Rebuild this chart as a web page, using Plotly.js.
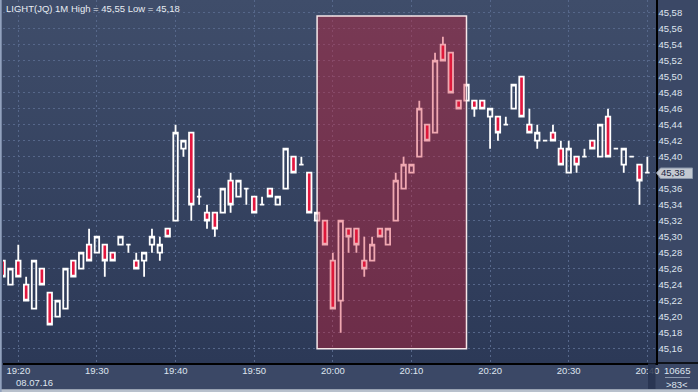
<!DOCTYPE html>
<html><head><meta charset="utf-8">
<script src="https://cdn.plot.ly/plotly-3.0.1.min.js"></script>
<style>
html,body{margin:0;padding:0;background:#3b4866;}
#wrap{position:relative;width:698px;height:392px;overflow:hidden;background:#3b4866;}
#bg{position:absolute;left:2px;top:0;width:654px;height:363px;background:linear-gradient(#3f4d6a,#2c3957);}
#chart{position:absolute;left:0;top:0;width:698px;height:392px;}
</style></head><body>
<div id="wrap"><div id="bg"></div><div id="chart"></div></div>
<script>
const times = ["19:18","19:19","19:20","19:21","19:22","19:23","19:24","19:25","19:26","19:27","19:28","19:29",
"19:30","19:31","19:32","19:33","19:34","19:35","19:36","19:37","19:38","19:39",
"19:40","19:41","19:42","19:43","19:44","19:45","19:46","19:47","19:48","19:49",
"19:50","19:51","19:52","19:53","19:54","19:55","19:56","19:57","19:58","19:59",
"20:00","20:01","20:02","20:03","20:04","20:05","20:06","20:07","20:08","20:09",
"20:10","20:11","20:12","20:13","20:14","20:15","20:16","20:17","20:18","20:19",
"20:20","20:21","20:22","20:23","20:24","20:25","20:26","20:27","20:28","20:29",
"20:30","20:31","20:32","20:33","20:34","20:35","20:36","20:37","20:38","20:39","20:40"];
const open = [45.27,45.24,45.27,45.24,45.21,45.26,45.23,45.20,45.21,45.27,45.26,45.29,
45.28,45.29,45.28,45.29,45.29,45.27,45.27,45.29,45.28,45.31,
45.32,45.41,45.43,45.35,45.33,45.33,45.33,45.37,45.35,45.36,
45.35,45.34,45.36,45.34,45.36,45.40,45.39,45.38,45.32,45.32,
45.27,45.22,45.31,45.31,45.27,45.27,45.31,45.29,45.32,45.36,
45.38,45.40,45.44,45.43,45.54,45.53,45.47,45.47,45.47,45.47,
45.45,45.45,45.44,45.46,45.50,45.44,45.42,45.42,45.43,45.41,
45.38,45.40,45.40,45.42,45.40,45.45,45.41,45.39,45.40,45.39,45.38];
const high = [45.27,45.26,45.29,45.25,45.27,45.26,45.23,45.22,45.26,45.27,45.28,45.31,
45.30,45.29,45.28,45.30,45.29,45.28,45.28,45.31,45.30,45.31,
45.44,45.42,45.43,45.36,45.34,45.33,45.36,45.38,45.37,45.36,
45.35,45.35,45.36,45.35,45.41,45.40,45.40,45.38,45.33,45.32,
45.28,45.32,45.31,45.31,45.30,45.30,45.31,45.31,45.38,45.40,
45.39,45.47,45.44,45.53,45.55,45.53,45.47,45.49,45.47,45.47,
45.46,45.45,45.45,45.49,45.50,45.46,45.44,45.42,45.44,45.42,
45.42,45.40,45.41,45.42,45.44,45.46,45.41,45.41,45.40,45.39,45.40];
const low = [45.25,45.24,45.25,45.22,45.21,45.24,45.19,45.20,45.21,45.25,45.26,45.27,
45.28,45.25,45.27,45.29,45.28,45.26,45.25,45.28,45.27,45.30,
45.32,45.40,45.32,45.34,45.31,45.30,45.33,45.33,45.35,45.34,
45.33,45.34,45.35,45.34,45.36,45.38,45.39,45.33,45.32,45.29,
45.21,45.18,45.28,45.28,45.25,45.27,45.30,45.29,45.32,45.36,
45.38,45.40,45.42,45.43,45.52,45.48,45.46,45.47,45.45,45.46,
45.41,45.42,45.44,45.46,45.45,45.43,45.41,45.42,45.42,45.39,
45.38,45.38,45.40,45.41,45.40,45.40,45.41,45.38,45.40,45.34,45.38];
const close = [45.25,45.26,45.25,45.22,45.27,45.24,45.19,45.22,45.26,45.25,45.28,45.27,
45.30,45.27,45.27,45.30,45.29,45.26,45.28,45.30,45.29,45.30,
45.43,45.42,45.34,45.35,45.32,45.31,45.36,45.34,45.37,45.36,
45.33,45.34,45.35,45.35,45.41,45.38,45.39,45.33,45.33,45.29,
45.21,45.32,45.30,45.29,45.26,45.29,45.30,45.31,45.37,45.39,
45.39,45.46,45.42,45.52,45.52,45.48,45.46,45.49,45.46,45.46,
45.46,45.43,45.44,45.49,45.45,45.43,45.43,45.42,45.42,45.39,
45.41,45.39,45.40,45.41,45.44,45.40,45.41,45.41,45.40,45.37,45.38];
const yTickVals = [45.16,45.18,45.20,45.22,45.24,45.26,45.28,45.30,45.32,45.34,45.36,45.38,
45.40,45.42,45.44,45.46,45.48,45.50,45.52,45.54,45.56,45.58];
const yTickText = ["45,16","45,18","45,20","45,22","45,24","45,26","45,28","45,30","45,32","45,34","45,36","",
"45,40","45,42","45,44","45,46","45,48","45,50","45,52","45,54","45,56","45,58"];
const day = "2016-07-08";
const dateLabel = "08.07.16";
const titleText = "LIGHT(JQ) 1M High = 45,55 Low = 45,18";
const lastPrice = 45.38;
const lastPriceText = "45,38";
const barCount = "10665";
const visibleCount = ">83<";
const selStart = "19:58", selEnd = "20:17";

const x = times.map(t => day + " " + t);

// layout geometry (pixels)
const L = 3, R = 42, T = 0, B = 29, W = 698, H = 392;
const PW = W - L - R, PH = H - T - B;
const px = p => (p - L) / PW;
const py = p => (PH + T - p) / PH;

// x range: 19:20 at pixel 18.3, 7.863 px per minute
function minStr(m) {
  let s = 19 * 3600 + 20 * 60 + m * 60;
  const hh = Math.floor(s / 3600); s -= hh * 3600;
  const mm = Math.floor(s / 60); s -= mm * 60;
  const pad = n => String(n).padStart(2, "0");
  return day + " " + pad(hh) + ":" + pad(mm) + ":" + s.toFixed(3).padStart(6, "0");
}
const kL = (L - 18.3) / 7.863, kR = (L + PW - 18.3) / 7.863;
const yTop = 45.58 + 12.7 / 800, yBot = 45.58 - (PH - 12.7) / 800;

const font = "Liberation Sans, Arial, sans-serif";
const txt = "#dfe5ef";
const grid = "#56678a";

const trace = {
  type: "candlestick", x: x, open: open, high: high, low: low, close: close,
  increasing: {line: {color: "#ffffff", width: 1.8}, fillcolor: "rgba(0,0,0,0)"},
  decreasing: {line: {color: "#ffffff", width: 1.8}, fillcolor: "#e3173f"},
  whiskerwidth: 0, hoverinfo: "skip", showlegend: false
};

function poly(pts) {
  return "M" + pts.map(p => px(p[0]).toFixed(5) + "," + py(p[1]).toFixed(5)).join("L") + "Z";
}

const layout = {
  width: W, height: H,
  margin: {l: L, r: R, t: T, b: B, pad: 0},
  paper_bgcolor: "rgba(0,0,0,0)", plot_bgcolor: "rgba(0,0,0,0)",
  separators: ", ",
  boxgap: 0.43, boxgroupgap: 0,
  showlegend: false,
  xaxis: {
    type: "date", range: [minStr(kL), minStr(kR)],
    rangeslider: {visible: false}, fixedrange: true,
    tick0: day + " 19:20", dtick: 600000, tickformat: "%H:%M",
    showgrid: true, gridcolor: grid, gridwidth: 1, griddash: "2px,3px",
    zeroline: false, showline: true, linecolor: "#000000", linewidth: 1.5,
    ticks: "", ticklabelstandoff: -2, tickfont: {family: font, size: 9.5, color: txt}
  },
  yaxis: {
    side: "right", range: [yBot, yTop], fixedrange: true,
    tickmode: "array", tickvals: yTickVals, ticktext: yTickText,
    showgrid: true, gridcolor: grid, gridwidth: 1, griddash: "2px,3px",
    zeroline: false, showline: true, linecolor: "#000000", linewidth: 1.5,
    ticks: "", ticklabelstandoff: -1, tickfont: {family: font, size: 9.5, color: txt}
  },
  shapes: [
    {type: "rect", layer: "above", xref: "x", yref: "y",
     x0: day + " " + selStart, x1: day + " " + selEnd, y0: 45.16, y1: 45.576,
     fillcolor: "rgba(215,25,50,0.38)", line: {color: "rgba(255,240,240,0.95)", width: 1.5}},
    {type: "path", layer: "above", xref: "paper", yref: "paper",
     path: poly([[656.5,173],[660.5,168],[692.5,168],[692.5,178.5],[660.5,178.5]]),
     fillcolor: "#c3c8d1", line: {color: "#8c97ab", width: 1}},
    {type: "rect", layer: "above", xref: "paper", yref: "paper",
     x0: px(648), x1: px(655.5), y0: py(389), y1: py(363.5),
     fillcolor: "rgba(40,52,80,0.85)", line: {width: 0}},
    {type: "line", layer: "above", xref: "paper", yref: "paper",
     x0: px(656), x1: px(698), y0: py(363), y1: py(363),
     line: {color: "#000000", width: 1.5}},
    {type: "line", layer: "above", xref: "paper", yref: "paper",
     x0: px(665), x1: px(690), y0: py(377.5), y1: py(377.5),
     line: {color: "#8a97ad", width: 1}},
    {type: "rect", layer: "above", xref: "paper", yref: "paper",
     x0: px(0), x1: px(698), y0: py(392), y1: py(389.3),
     fillcolor: "#b8c0cc", line: {width: 0}},
    {type: "rect", layer: "above", xref: "paper", yref: "paper",
     x0: px(0), x1: px(1.7), y0: py(392), y1: py(0),
     fillcolor: "#92a2be", line: {width: 0}}
  ],
  annotations: [
    {xref: "paper", yref: "paper", x: px(4), y: py(8), xanchor: "left", yanchor: "middle",
     text: titleText, showarrow: false, font: {family: font, size: 9.5, color: "#e8ecf2"}},
    {xref: "paper", yref: "paper", x: px(14), y: py(382), xanchor: "left", yanchor: "middle",
     text: dateLabel, showarrow: false, font: {family: font, size: 9.5, color: txt}},
    {xref: "paper", yref: "y", x: px(659), y: lastPrice, xanchor: "left", yanchor: "middle",
     text: lastPriceText, showarrow: false,
     font: {family: font, size: 9.5, color: "#1b2642"}},
    {xref: "paper", yref: "paper", x: px(677), y: py(370.5), xanchor: "center", yanchor: "middle",
     text: barCount, showarrow: false, font: {family: font, size: 9.5, color: txt}},
    {xref: "paper", yref: "paper", x: px(677), y: py(384), xanchor: "center", yanchor: "middle",
     text: visibleCount, showarrow: false, font: {family: font, size: 9.5, color: txt}}
  ]
};

Plotly.newPlot("chart", [trace], layout, {staticPlot: true, displayModeBar: false});
</script>
</body></html>
